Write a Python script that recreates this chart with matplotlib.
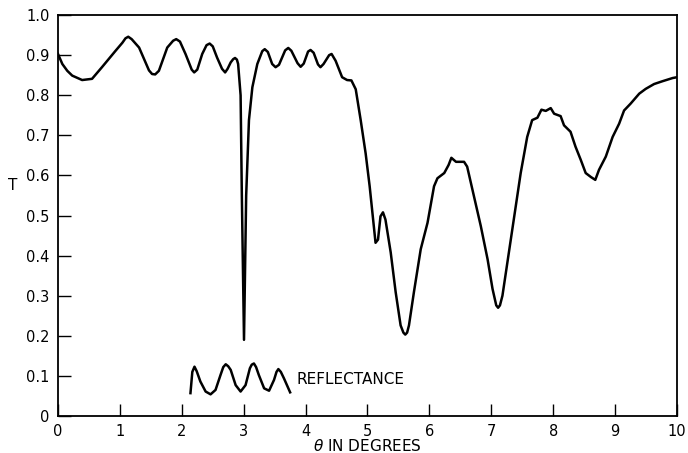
"""Transmittance vs angle, with reflectance inset"""
import matplotlib
matplotlib.use('Agg')
import matplotlib.pyplot as plt

# transmittance curve
theta = [0.00, 0.07, 0.15, 0.23, 0.39, 0.55, 0.71, 0.93, 1.04, 1.09,
         1.135, 1.19, 1.31, 1.47, 1.52, 1.57, 1.63, 1.765, 1.86, 1.91,
         1.97, 2.06, 2.16, 2.20, 2.25, 2.33, 2.40, 2.45, 2.50, 2.57,
         2.65, 2.70, 2.74, 2.79, 2.83, 2.86, 2.89, 2.91, 2.95, 2.97,
         2.99, 3.005, 3.02, 3.04, 3.085, 3.14, 3.22, 3.30, 3.34, 3.39,
         3.46, 3.515, 3.57, 3.67, 3.72, 3.77, 3.87, 3.92, 3.97, 4.04,
         4.08, 4.13, 4.20, 4.24, 4.29, 4.38, 4.42, 4.485, 4.59, 4.67,
         4.74, 4.81, 4.89, 4.97, 5.035, 5.09, 5.13, 5.17, 5.21, 5.25,
         5.29, 5.375, 5.455, 5.535, 5.58, 5.61, 5.64, 5.67, 5.75, 5.86,
         5.97, 6.075, 6.13, 6.24, 6.31, 6.355, 6.43, 6.56, 6.61, 6.72,
         6.83, 6.94, 7.02, 7.08, 7.11, 7.14, 7.18, 7.26, 7.37, 7.475,
         7.58, 7.66, 7.745, 7.81, 7.88, 7.96, 8.015, 8.12, 8.175, 8.28,
         8.36, 8.445, 8.525, 8.61, 8.68, 8.74, 8.85, 8.96, 9.065, 9.145,
         9.25, 9.39, 9.495, 9.63, 9.765, 9.93, 10.0]
trans = [0.903, 0.878, 0.861, 0.849, 0.838, 0.841, 0.870, 0.911, 0.931, 0.942,
         0.946, 0.940, 0.919, 0.862, 0.853, 0.852, 0.861, 0.919, 0.936, 0.940,
         0.934, 0.903, 0.864, 0.857, 0.864, 0.903, 0.925, 0.929, 0.922, 0.894,
         0.866, 0.857, 0.866, 0.882, 0.890, 0.893, 0.889, 0.878, 0.800, 0.550,
         0.350, 0.190, 0.350, 0.550, 0.738, 0.820, 0.878, 0.910, 0.915, 0.908,
         0.878, 0.870, 0.876, 0.912, 0.918, 0.911, 0.880, 0.871, 0.879, 0.909,
         0.913, 0.906, 0.877, 0.870, 0.878, 0.900, 0.903, 0.886, 0.845, 0.838,
         0.837, 0.815, 0.738, 0.655, 0.573, 0.490, 0.432, 0.440, 0.498, 0.508,
         0.490, 0.408, 0.309, 0.226, 0.208, 0.203, 0.208, 0.226, 0.309, 0.416,
         0.482, 0.573, 0.593, 0.606, 0.626, 0.644, 0.634, 0.634, 0.622, 0.548,
         0.474, 0.391, 0.317, 0.276, 0.270, 0.276, 0.300, 0.383, 0.498, 0.606,
         0.696, 0.738, 0.744, 0.764, 0.761, 0.768, 0.754, 0.748, 0.725, 0.709,
         0.672, 0.639, 0.606, 0.596, 0.589, 0.614, 0.647, 0.696, 0.729, 0.762,
         0.779, 0.804, 0.816, 0.828, 0.835, 0.843, 0.845]

# small reflectance trace drawn near the bottom
refl_x = [2.14, 2.17, 2.205, 2.24, 2.30, 2.385, 2.465, 2.545, 2.625, 2.67,
          2.71, 2.75, 2.79, 2.87, 2.95, 3.03, 3.10, 3.13, 3.165, 3.20,
          3.245, 3.33, 3.41, 3.49, 3.53, 3.56, 3.60, 3.65, 3.75]
refl_y = [0.057, 0.110, 0.123, 0.112, 0.086, 0.061, 0.054, 0.065, 0.102, 0.122,
          0.129, 0.124, 0.115, 0.077, 0.061, 0.077, 0.119, 0.128, 0.131, 0.122,
          0.102, 0.069, 0.063, 0.090, 0.110, 0.117, 0.110, 0.094, 0.059]

xticks = [0, 1, 2, 3, 4, 5, 6, 7, 8, 9, 10]
yticks = [0, 0.1, 0.2, 0.3, 0.4, 0.5, 0.6, 0.7, 0.8, 0.9, 1.0]
ylabels = ['0', '0.1', '0.2', '0.3', '0.4', '0.5', '0.6', '0.7', '0.8', '0.9', '1.0']

fig = plt.figure(figsize=(6.88, 4.53), dpi=100)
ax = fig.add_axes([0.0843, 0.0817, 0.8997, 0.885])

ax.plot(theta, trans, color='black', lw=1.8, solid_joinstyle='round')
ax.plot(refl_x, refl_y, color='black', lw=1.8, solid_joinstyle='round')
ax.text(3.86, 0.09, 'REFLECTANCE', fontsize=11, va='center', ha='left')

ax.set_xlim(0, 10)
ax.set_ylim(0, 1.0)
ax.set_xticks(xticks)
ax.set_xticklabels([str(t) for t in xticks])
ax.set_yticks(yticks)
ax.set_yticklabels(ylabels)
ax.tick_params(direction='in', length=9, width=1, labelsize=10.5, pad=6)

for s in ax.spines.values():
    s.set_linewidth(1.3)

ax.set_xlabel(r'$\theta$ IN DEGREES', fontsize=11, labelpad=-1)
ax.set_ylabel('T', rotation=0, fontsize=11)
ax.yaxis.set_label_coords(-0.073, 0.556)

fig.savefig('out.png', dpi=100)
